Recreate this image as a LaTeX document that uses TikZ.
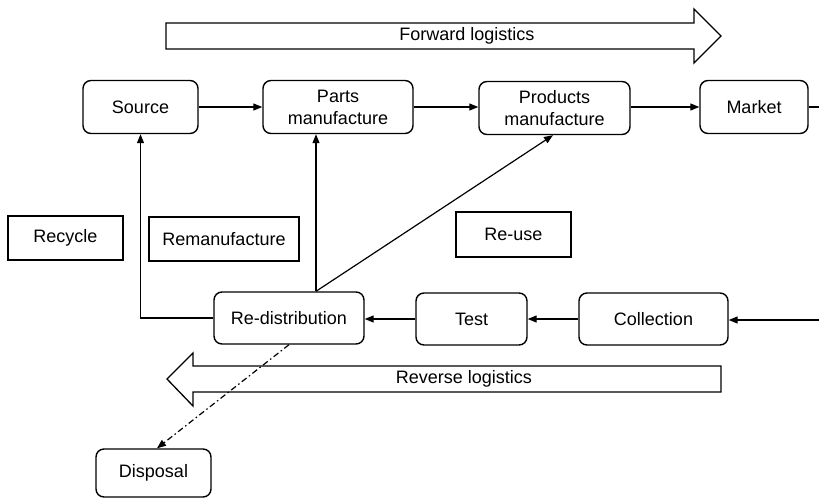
\documentclass[tikz,border=0pt]{standalone}
\usepackage{fontspec}
\setmainfont{Liberation Sans}
\usetikzlibrary{arrows.meta,calc}
\begin{document}
\begin{tikzpicture}[x=1pt,y=-1pt,
  every node/.style={font=\fontsize{18}{22}\selectfont, inner sep=0pt},
  stage/.style={draw, line width=1.4pt, rounded corners=8pt, align=center},
  activity/.style={draw, line width=1.3pt},
  flow/.style={line width=1.2pt, -{Triangle[length=9pt,width=7pt]}},
  plain/.style={line width=1.2pt},
  bigarrow/.style={draw, line width=1.3pt, line join=miter}]
\useasboundingbox (0,0) rectangle (819,499);

% forward / reverse logistics banners
\draw[bigarrow] (166,23) -- (694,23) -- (694,9) -- (721,36) -- (694,63) -- (694,49) -- (166,49) -- cycle;
\node (fwd) at (467,36) {Forward logistics};
\draw[bigarrow] (721,366) -- (193,366) -- (193,353) -- (167,379) -- (193,406) -- (193,392) -- (721,392) -- cycle;
\node (rev) at (464,379) {Reverse logistics};

% forward chain
\node[stage, minimum width=115pt, minimum height=53pt] (source) at (140.5,107) {Source};
\node[stage, minimum width=150pt, minimum height=53pt] (parts) at (338,107) {Parts\\manufacture};
\node[stage, minimum width=151pt, minimum height=53pt] (products) at (554.5,108) {Products\\manufacture};
\node[stage, minimum width=108pt, minimum height=53pt] (market) at (754,107) {Market};

% recovery activities
\node[activity, minimum width=115pt, minimum height=44pt] (recycle) at (65.5,238) {Recycle};
\node[activity, minimum width=150pt, minimum height=44pt] (reman) at (224,239) {Remanufacture};
\node[activity, minimum width=115pt, minimum height=45pt] (reuse) at (513.5,234.5) {Re-use};

% reverse chain
\node[stage, minimum width=150pt, minimum height=52pt] (redist) at (289,318) {Re-distribution};
\node[stage, minimum width=111pt, minimum height=52pt] (test) at (471.5,319) {Test};
\node[stage, minimum width=149pt, minimum height=52pt] (collect) at (653.5,319) {Collection};
\node[stage, minimum width=115pt, minimum height=48pt] (disposal) at (153.5,473) {Disposal};

\coordinate (outA) at (819,107);
\coordinate (outB) at (819,320);

% forward connectors
\draw[flow] (source) -- (parts);
\draw[flow] (parts) -- (products.west |- parts);
\draw[flow] (products.east |- market) -- (market);
\draw[plain] (market) -- (outA);

% reverse connectors
\draw[flow] (outB) -- (collect.east |- outB);
\draw[flow] (collect) -- (test);
\draw[flow] (test.west) -- (redist.east |- test.west);
\draw[flow] (redist.west) -| (source.south);
\draw[flow] ([xshift=27pt]redist.north) -- ([xshift=27pt]redist.north |- parts.south);
\draw[flow] ([xshift=27pt]redist.north) -- ([xshift=-1.5pt]products.south);
\draw[flow, dash pattern=on 6pt off 3pt on 1.5pt off 3pt] (redist.south) -- ([xshift=3.5pt]disposal.north);
\end{tikzpicture}
\end{document}
